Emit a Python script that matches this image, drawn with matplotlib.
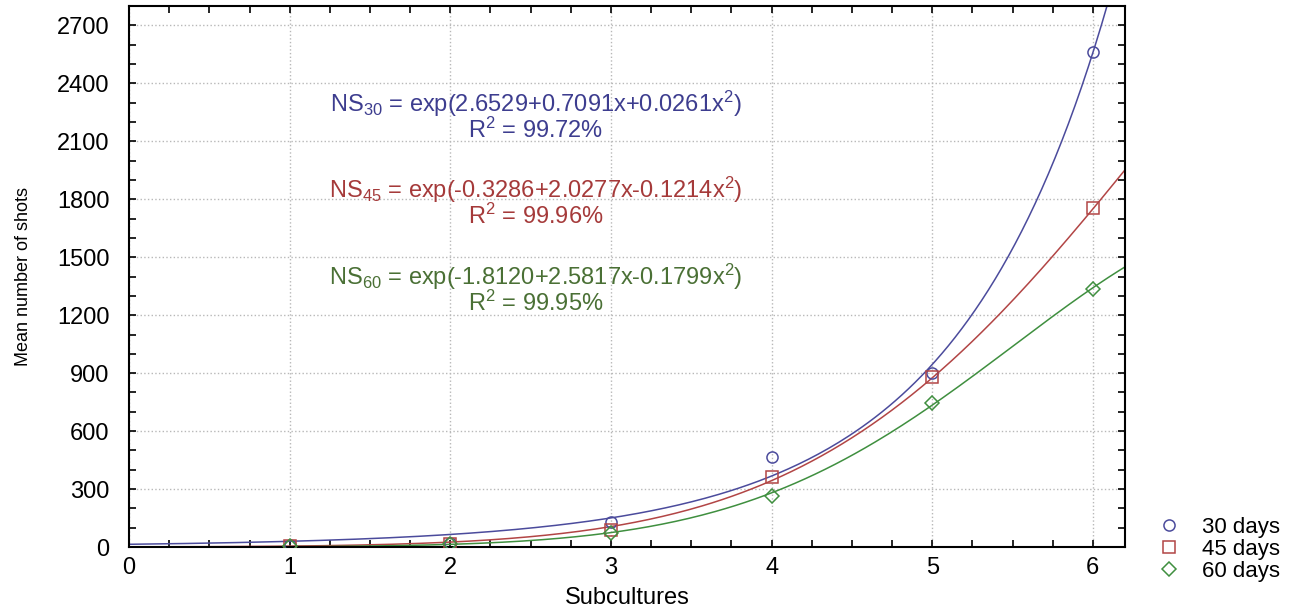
import numpy as np
import matplotlib.pyplot as plt
from matplotlib.ticker import MultipleLocator

plt.rcParams['font.family'] = ['Liberation Sans', 'DejaVu Sans']
plt.rcParams['mathtext.default'] = 'regular'

subcultures = [1, 2, 3, 4, 5, 6]
shots_30 = [10, 20, 131, 467, 900, 2562]
shots_45 = [5, 18, 88, 364, 878, 1754]
shots_60 = [3, 15, 75, 262, 743, 1336]

# Coeficientes de los ajustes exp(a + b x + c x^2)
coef_30 = [2.6529, 0.7091, 0.0261]
coef_45 = [-0.3286, 2.0277, -0.1214]
coef_60 = [-1.8120, 2.5817, -0.1799]

labels = ['30 days', '45 days', '60 days']
eq_texts = [
    ('NS$_{30}$ = exp(2.6529+0.7091x+0.0261x$^{2}$)', 'R$^{2}$ = 99.72%'),
    ('NS$_{45}$ = exp(-0.3286+2.0277x-0.1214x$^{2}$)', 'R$^{2}$ = 99.96%'),
    ('NS$_{60}$ = exp(-1.8120+2.5817x-0.1799x$^{2}$)', 'R$^{2}$ = 99.95%'),
]
eq_y = [2292, 1847, 1397]

line_colors = ['#4b4b9c', '#b24545', '#3f8f3f']
text_colors = ['#3d3d8f', '#a53a3a', '#4a7035']
markers = ['o', 's', 'D']
marker_sizes = [8, 9, 7]

fig = plt.figure(figsize=(13.01, 6.07), dpi=100)
ax = fig.add_axes([0.0992, 0.0988, 0.7655, 0.8912])

xs = np.linspace(0, 6.2, 300)
series = [shots_30, shots_45, shots_60]
coefs = [coef_30, coef_45, coef_60]

for ys, c, lab, lc, m, ms in zip(series, coefs, labels, line_colors, markers, marker_sizes):
    fit = np.exp(c[0] + c[1] * xs + c[2] * xs ** 2)
    ax.plot(xs, fit, color=lc, linewidth=1.1, zorder=2)
    ax.plot(subcultures, ys, linestyle='none', marker=m, markersize=ms,
            markerfacecolor='none', markeredgecolor=lc, markeredgewidth=1.1,
            label=lab, zorder=3)

for (eq, r2), y0, tc in zip(eq_texts, eq_y, text_colors):
    ax.text(2.53, y0, eq, color=tc, fontsize=17, ha='center', va='center')
    ax.text(2.53, y0 - 135, r2, color=tc, fontsize=17, ha='center', va='center')

ax.set_xlim(0, 6.2)
ax.set_ylim(0, 2800)
ax.xaxis.set_major_locator(MultipleLocator(1))
ax.xaxis.set_minor_locator(MultipleLocator(0.25))
ax.yaxis.set_major_locator(MultipleLocator(300))
ax.yaxis.set_minor_locator(MultipleLocator(100))
ax.set_yticks(np.arange(0, 2701, 300))

ax.tick_params(which='both', direction='in', top=True, right=True,
               length=5, width=1.2, labelsize=17, colors='black')
ax.tick_params(axis='x', pad=7)
ax.tick_params(axis='y', pad=14)
for s in ax.spines.values():
    s.set_linewidth(1.5)

ax.grid(True, which='major', linestyle=':', color='#b8b8b8', linewidth=1)

ax.set_xlabel('Subcultures', fontsize=17, labelpad=6)
ax.set_ylabel('Mean number of shots', fontsize=13, labelpad=18)

ax.legend(loc='lower left', bbox_to_anchor=(1.022, -0.085), frameon=False,
          fontsize=16, handlelength=1.0, handletextpad=1.0,
          labelspacing=0.05, borderpad=0)

fig.savefig('out.png', dpi=100)
